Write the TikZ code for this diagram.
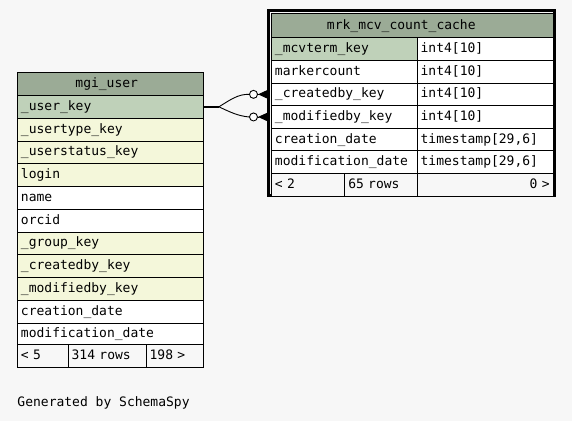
\documentclass[tikz,border=0pt]{standalone}
\usepackage{fontspec}
\newfontfamily\schemafont{DejaVu Sans Mono}
\usetikzlibrary{arrows.meta}
\definecolor{hdrgreen}{HTML}{9BAB96}
\definecolor{pkgreen}{HTML}{BFD1B9}
\definecolor{fkyellow}{HTML}{F4F7DA}
\definecolor{pagegray}{HTML}{F7F7F7}

\begin{document}
\begin{tikzpicture}[x=1pt, y=-1pt, line width=0.9pt,
  every node/.style={font=\schemafont\fontsize{13}{15}\selectfont},
  cell/.style={draw, anchor=north west, inner xsep=3.5pt, inner ysep=0pt,
    text height=9.5pt, text depth=2.5pt, align=left, fill=white},
  hdrcell/.style={cell, fill=hdrgreen, align=center},
  footcell/.style={cell, fill=pagegray},
  crowdot/.style={circle, draw, fill=white, minimum size=8pt, inner sep=0pt}]
  \useasboundingbox[fill=pagegray] (0,0) rectangle (572,421);

  % mgi_user table
  \node[hdrcell, text width=179pt, minimum height=23.3pt] (uhead) at (17,71.7) {\hspace*{-7.4pt}mgi\_user};
  \foreach \fld/\col [count=\i from 0] in {\_user\_key/pkgreen, \_usertype\_key/fkyellow,
      \_userstatus\_key/fkyellow, login/fkyellow, name/white, orcid/white,
      \_group\_key/fkyellow, \_createdby\_key/fkyellow, \_modifiedby\_key/fkyellow,
      creation\_date/white, modification\_date/white} {
    \node[cell, fill=\col, text width=179pt, minimum height=22.75pt] (u\i) at (17,{95+22.75*\i}) {\fld};
  }
  \node[footcell, text width=43.7pt, minimum height=22.4pt] (ufoot1) at (17,344.3) {< 5};
  \node[footcell, text width=71pt, minimum height=22.4pt] (ufoot2) at (67.7,344.3) {314 rows};
  \node[footcell, text width=50.3pt, minimum height=22.4pt] (ufoot3) at (145.7,344.3) {198 >};

  % mrk_mcv_count_cache table
  \draw[line width=3pt] (268.5,10.2) rectangle (554.6,195.6);
  \node[hdrcell, text width=274.7pt, minimum height=24pt] (mhead) at (271,13.3) {\hspace*{-22pt}mrk\_mcv\_count\_cache};
  \foreach \fld/\typ/\col [count=\i from 0] in {\_mcvterm\_key/int4[10]/pkgreen,
      markercount/int4[10]/white, \_createdby\_key/int4[10]/white,
      \_modifiedby\_key/int4[10]/white, creation\_date/{timestamp[29,6]}/white,
      modification\_date/{timestamp[29,6]}/white} {
    \node[cell, fill=\col, text width=138.7pt, minimum height=22.63pt] (m\i) at (271,{37.3+22.63*\i}) {\fld};
    \node[cell, text width=129pt, minimum height=22.63pt] (t\i) at (416.7,{37.3+22.63*\i}) {\typ};
  }
  \node[footcell, text width=66.3pt, minimum height=22.5pt] (mfoot1) at (271,173.2) {< 2};
  \node[footcell, text width=65.4pt, minimum height=22.5pt] (mfoot2) at (344.3,173.2) {65 rows};
  \node[footcell, text width=129pt, minimum height=22.5pt, align=right] (mfoot3) at (416.7,173.2) {0 >};

  % relationships: _user_key -> _createdby_key, _modifiedby_key
  \draw[line width=2.2pt] (u0.east) -- ++(15,0) coordinate (fan);
  \node[crowdot] (dot1) at ([xshift=-17.5pt]m2.west) {};
  \node[crowdot] (dot2) at ([xshift=-17.5pt]m3.west) {};
  \draw (fan) .. controls (230,100) and (238,94) .. (dot1.west);
  \draw (fan) .. controls (230,112) and (238,116) .. (dot2.west);
  \draw[-{Triangle[reversed, length=9pt, width=8pt]}] (dot1.east) -- ([xshift=-4pt]m2.west);
  \draw[-{Triangle[reversed, length=9pt, width=8pt]}] (dot2.east) -- ([xshift=-4pt]m3.west);

  \node[anchor=base west, inner sep=0pt] (credit) at (17,406.7) {Generated by SchemaSpy};
\end{tikzpicture}
\end{document}
